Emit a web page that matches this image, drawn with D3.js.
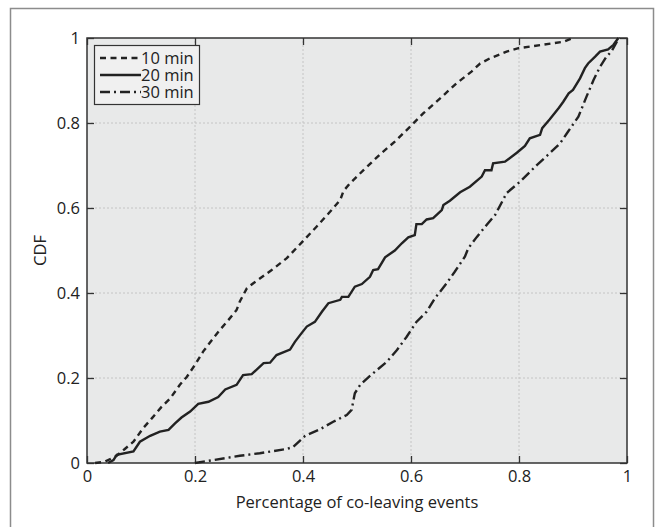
<!DOCTYPE html>
<html>
<head>
<meta charset="utf-8">
<script src="https://cdn.jsdelivr.net/npm/d3@7"></script>
<style>
  html, body { margin: 0; padding: 0; background: #fff; }
  svg { display: block; font-family: "Open Sans", "Noto Sans", sans-serif; }
</style>
</head>
<body>
<svg id="chart" width="658" height="527"></svg>
<script>
// CDF of co-leaving events, three time windows

const xTicks = [0, 0.2, 0.4, 0.6, 0.8, 1];
const yTicks = [0, 0.2, 0.4, 0.6, 0.8, 1];
const xLabel = "Percentage of co-leaving events";
const yLabel = "CDF";

const min10 = [
  [0.015, 0], [0.033, 0.003], [0.055, 0.017], [0.07, 0.033], [0.086, 0.05],
  [0.104, 0.082], [0.12, 0.105], [0.138, 0.132], [0.154, 0.152], [0.172, 0.184],
  [0.185, 0.203], [0.2, 0.231], [0.215, 0.262], [0.231, 0.289], [0.246, 0.313],
  [0.259, 0.332], [0.277, 0.36], [0.283, 0.38], [0.296, 0.411], [0.308, 0.423],
  [0.342, 0.454], [0.37, 0.482], [0.397, 0.518], [0.425, 0.556], [0.45, 0.591],
  [0.469, 0.619], [0.475, 0.64], [0.487, 0.658], [0.512, 0.689], [0.545, 0.729],
  [0.57, 0.756], [0.598, 0.791], [0.623, 0.823], [0.654, 0.858], [0.684, 0.893],
  [0.712, 0.921], [0.728, 0.94], [0.746, 0.952], [0.777, 0.968], [0.799, 0.976],
  [0.827, 0.981], [0.882, 0.991], [0.9, 1]
];

const min20 = [
  [0.039, 0], [0.049, 0.007], [0.055, 0.019], [0.086, 0.027], [0.098, 0.05],
  [0.117, 0.064], [0.135, 0.074], [0.151, 0.078], [0.163, 0.093], [0.175, 0.107],
  [0.191, 0.121], [0.206, 0.139], [0.225, 0.144], [0.243, 0.155], [0.256, 0.173],
  [0.277, 0.184], [0.289, 0.207], [0.305, 0.209], [0.327, 0.235], [0.339, 0.236],
  [0.351, 0.254], [0.376, 0.267], [0.385, 0.285], [0.397, 0.305], [0.407, 0.321],
  [0.422, 0.332], [0.435, 0.356], [0.447, 0.376], [0.469, 0.384], [0.472, 0.391],
  [0.484, 0.391], [0.496, 0.415], [0.509, 0.421], [0.524, 0.438], [0.53, 0.454],
  [0.539, 0.456], [0.552, 0.484], [0.57, 0.5], [0.583, 0.517], [0.595, 0.531],
  [0.607, 0.536], [0.61, 0.562], [0.62, 0.562], [0.629, 0.573], [0.641, 0.576],
  [0.657, 0.595], [0.66, 0.607], [0.672, 0.617], [0.691, 0.637], [0.709, 0.65],
  [0.731, 0.674], [0.737, 0.689], [0.749, 0.689], [0.752, 0.705], [0.774, 0.709],
  [0.796, 0.73], [0.811, 0.746], [0.82, 0.764], [0.839, 0.772], [0.843, 0.788],
  [0.857, 0.809], [0.874, 0.836], [0.882, 0.85], [0.892, 0.87], [0.9, 0.878],
  [0.913, 0.905], [0.922, 0.929], [0.928, 0.94], [0.941, 0.956], [0.95, 0.968],
  [0.965, 0.973], [0.975, 0.984], [0.984, 1]
];

const min30 = [
  [0.2, 0], [0.283, 0.017], [0.32, 0.023], [0.37, 0.033], [0.382, 0.038],
  [0.404, 0.064], [0.431, 0.079], [0.456, 0.097], [0.481, 0.113], [0.49, 0.125],
  [0.496, 0.164], [0.506, 0.184], [0.524, 0.205], [0.555, 0.238], [0.574, 0.266],
  [0.592, 0.297], [0.61, 0.332], [0.629, 0.356], [0.644, 0.387], [0.666, 0.423],
  [0.681, 0.45], [0.7, 0.486], [0.706, 0.505], [0.722, 0.532], [0.74, 0.56],
  [0.756, 0.584], [0.777, 0.635], [0.802, 0.662], [0.833, 0.701], [0.857, 0.729],
  [0.876, 0.752], [0.891, 0.78], [0.91, 0.815], [0.925, 0.862], [0.938, 0.901],
  [0.95, 0.932], [0.962, 0.956], [0.971, 0.968], [0.981, 0.991], [0.987, 1]
];

const seriesNames = ["10 min", "20 min", "30 min"];
const seriesData = [min10, min20, min30];
const seriesDash = ["6,4.5", null, "10,4,2,4"];

const FONT = "16.5px";

const svg = d3.select("#chart");
const margin = { left: 87, right: 31, top: 38, bottom: 64 };
const W = 658, H = 527;
const x = d3.scaleLinear().domain([0, 1]).range([margin.left, W - margin.right]);
const y = d3.scaleLinear().domain([0, 1]).range([H - margin.bottom, margin.top]);

// outer frame
svg.append("rect")
  .attr("x", 10.5).attr("y", 8.5)
  .attr("width", 643).attr("height", 530)
  .attr("fill", "none").attr("stroke", "#8c8c8c").attr("stroke-width", 1.5);

// plot background
svg.append("rect")
  .attr("x", x(0)).attr("y", y(1))
  .attr("width", x(1) - x(0)).attr("height", y(0) - y(1))
  .attr("fill", "#e8e9e9");

// grid
const grid = svg.append("g").attr("stroke", "#c4c4c4").attr("stroke-width", 1).attr("stroke-dasharray", "2,2");
grid.selectAll("line.gx").data(xTicks.slice(1, -1)).join("line")
  .attr("x1", (d) => x(d)).attr("x2", (d) => x(d))
  .attr("y1", y(0)).attr("y2", y(1));
grid.selectAll("line.gy").data(yTicks.slice(1, -1)).join("line")
  .attr("y1", (d) => y(d)).attr("y2", (d) => y(d))
  .attr("x1", x(0)).attr("x2", x(1));

// axes with inward ticks
const fmt = (d) => (d === 0 || d === 1 ? String(d) : d.toFixed(1));
function styleAxis(g, showText) {
  g.select(".domain").remove();
  g.selectAll(".tick line").attr("stroke", "#333").attr("stroke-width", 1.3);
  g.selectAll(".tick text").attr("fill", "#222").style("font-size", FONT)
    .style("font-family", "'Open Sans', 'Noto Sans', sans-serif");
  if (!showText) g.selectAll(".tick text").remove();
}
svg.append("g").attr("transform", `translate(0,${y(0)})`)
  .call(d3.axisBottom(x).tickValues(xTicks).tickFormat(fmt).tickSizeInner(-7).tickSizeOuter(0).tickPadding(7))
  .call((g) => styleAxis(g, true));
svg.append("g").attr("transform", `translate(0,${y(1)})`)
  .call(d3.axisTop(x).tickValues(xTicks).tickSizeInner(-7).tickSizeOuter(0))
  .call((g) => styleAxis(g, false));
svg.append("g").attr("transform", `translate(${x(0)},0)`)
  .call(d3.axisLeft(y).tickValues(yTicks).tickFormat(fmt).tickSizeInner(-7).tickSizeOuter(0).tickPadding(7))
  .call((g) => styleAxis(g, true));
svg.append("g").attr("transform", `translate(${x(1)},0)`)
  .call(d3.axisRight(y).tickValues(yTicks).tickSizeInner(-7).tickSizeOuter(0))
  .call((g) => styleAxis(g, false));

// plot box
svg.append("rect")
  .attr("x", x(0)).attr("y", y(1))
  .attr("width", x(1) - x(0)).attr("height", y(0) - y(1))
  .attr("fill", "none").attr("stroke", "#333").attr("stroke-width", 1.5);

// curves
const line = d3.line().x((d) => x(d[0])).y((d) => y(d[1]));
svg.append("g").selectAll("path").data(seriesData).join("path")
  .attr("d", line)
  .attr("fill", "none")
  .attr("stroke", "#222")
  .attr("stroke-width", 2.4)
  .attr("stroke-dasharray", (d, i) => seriesDash[i]);

// legend
const lg = svg.append("g").attr("transform", "translate(94,45)");
lg.append("rect").attr("x", 0.5).attr("y", 0.5).attr("width", 105).attr("height", 59)
  .attr("fill", "#f0f0f0").attr("stroke", "#333").attr("stroke-width", 1.2);
seriesNames.forEach((name, i) => {
  const yy = 13 + i * 17;
  lg.append("line").attr("x1", 6).attr("x2", 47).attr("y1", yy).attr("y2", yy)
    .attr("stroke", "#222").attr("stroke-width", 2.4)
    .attr("stroke-dasharray", seriesDash[i]);
  lg.append("text").attr("x", 47).attr("y", yy + 6)
    .attr("fill", "#222").style("font-size", FONT).text(name);
});

// axis labels
svg.append("text").attr("x", (x(0) + x(1)) / 2).attr("y", 508)
  .attr("text-anchor", "middle").attr("fill", "#222").style("font-size", FONT)
  .text(xLabel);
svg.append("text").attr("transform", `translate(46,${(y(0) + y(1)) / 2}) rotate(-90)`)
  .attr("text-anchor", "middle").attr("fill", "#222").style("font-size", FONT)
  .text(yLabel);
</script>
</body>
</html>
